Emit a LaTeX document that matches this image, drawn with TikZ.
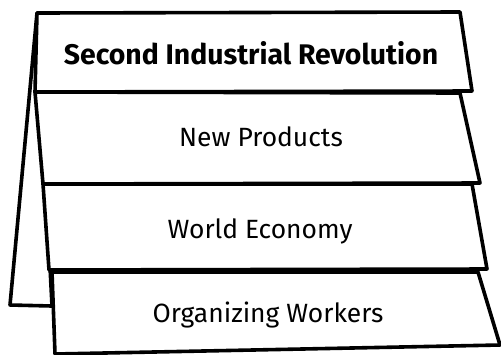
\documentclass[tikz,border=0pt]{standalone}
\usepackage{fontspec}
\setmainfont{Fira Sans}
\usetikzlibrary{positioning}

\begin{document}
\begin{tikzpicture}[
    x=1bp, y=-1bp,
    sheet/.style={draw=black, fill=white, line width=3.6bp, line join=round},
    headline/.style={font=\bfseries\fontsize{28.5}{32}\selectfont, text=black},
    item/.style={font=\fontsize{26.5}{30}\selectfont, text=black},
]
\useasboundingbox (0,0) rectangle (501,354);

% back panel of the stand
\draw[sheet] (37,13) -- (10,305) -- (52,306) -- cycle;

% layers, bottom one first
\draw[sheet] (52,272) -- (478,272) -- (500,345) -- (55,354) -- cycle;
\draw[sheet] (43,184) -- (472,184) -- (487,269) -- (49,270) -- cycle;
\draw[sheet] (35,92) -- (460,93) -- (480,183) -- (43,184) -- cycle;
\draw[sheet] (37,13) -- (460,12) -- (472,91) -- (35,92) -- cycle;

\node[headline] (title) at (251,53) {Second Industrial Revolution};
\node[item] (products) at (261,137) {New Products};
\node[item] (economy) at (260,231) {World Economy};
\node[item] (workers) at (268,315) {Organizing Workers};
\end{tikzpicture}
\end{document}
